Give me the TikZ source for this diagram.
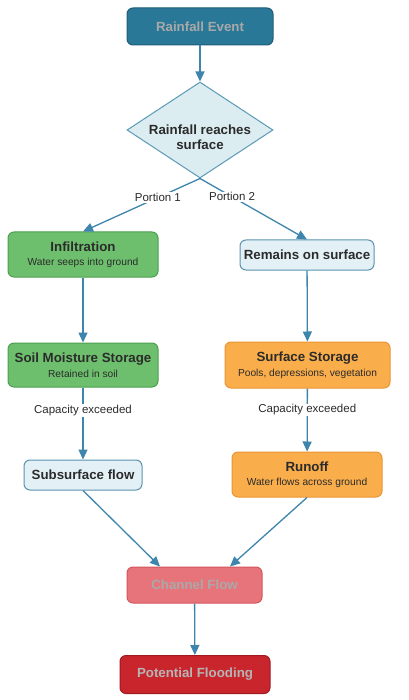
\documentclass[tikz,border=0pt]{standalone}
\usepackage{fontspec}
\setmainfont{Liberation Sans}
\usetikzlibrary{shapes.geometric,arrows.meta}
\definecolor{evfill}{HTML}{2A7898}
\definecolor{evdraw}{HTML}{1F5D78}
\definecolor{evtext}{HTML}{A8A8A8}
\definecolor{dmfill}{HTML}{DCEDF2}
\definecolor{dmdraw}{HTML}{5A9AB5}
\definecolor{grfill}{HTML}{6DBF6D}
\definecolor{grdraw}{HTML}{4E9F52}
\definecolor{ltfill}{HTML}{E3F1F6}
\definecolor{ltdraw}{HTML}{5A93B0}
\definecolor{orfill}{HTML}{F9AD4B}
\definecolor{ordraw}{HTML}{EB9532}
\definecolor{chfill}{HTML}{E8747B}
\definecolor{chdraw}{HTML}{D4555D}
\definecolor{chtext}{HTML}{A9A9A9}
\definecolor{flfill}{HTML}{C8252D}
\definecolor{fldraw}{HTML}{A11A20}
\definecolor{fltext}{HTML}{B5B5B5}
\definecolor{arrc}{HTML}{3D85AD}
\definecolor{txt}{HTML}{2B2B2B}
\newcommand\mytitlefont{\fontsize{13.3}{15.5}\selectfont\bfseries}
\newcommand\mysubfont{\fontsize{10.2}{12}\selectfont}
\newcommand\mylabfont{\fontsize{11.5}{13}\selectfont}
\begin{document}
\begin{tikzpicture}[x=1pt,y=-1pt,
  box/.style={draw, rounded corners=6pt, line width=1pt, inner sep=0pt, align=center, text=txt, font=\mytitlefont},
  greenbox/.style={box, fill=grfill, draw=grdraw},
  lightbox/.style={box, fill=ltfill, draw=ltdraw},
  orangebox/.style={box, fill=orfill, draw=ordraw},
  arr/.style={draw=arrc, line width=1.3pt, -{Triangle[length=10pt,width=9pt]}},
  lab/.style={fill=white, font=\mylabfont, text=txt, inner sep=1pt}]
\useasboundingbox[fill=white] (0,0) rectangle (408,700);

\node[box, fill=evfill, draw=evdraw, text=evtext, minimum width=146pt, minimum height=37pt] (ev) at (200,26.5) {Rainfall Event};

\node[diamond, draw=dmdraw, fill=dmfill, line width=1pt, minimum width=146pt, minimum height=96pt, inner sep=0pt] (dm) at (200,130) {};
\node[font=\mytitlefont, align=center, text=txt] (dmt) at (200,137) {Rainfall reaches\\surface};

\node[greenbox, minimum width=150pt, minimum height=45pt] (inf) at (83,254.5) {Infiltration\\[-1pt]{\mysubfont\mdseries Water seeps into ground}};
\node[lightbox, minimum width=134pt, minimum height=30pt] (rem) at (307,255) {Remains on surface};
\node[greenbox, minimum width=150pt, minimum height=44pt] (soil) at (83,365) {Soil Moisture Storage\\[-1pt]{\mysubfont\mdseries Retained in soil}};
\node[orangebox, minimum width=165pt, minimum height=46pt] (sur) at (307.5,365) {Surface Storage\\[-1pt]{\mysubfont\mdseries Pools, depressions, vegetation}};
\node[lightbox, minimum width=118pt, minimum height=30pt] (sub) at (83,475) {Subsurface flow};
\node[orangebox, minimum width=150pt, minimum height=45pt] (run) at (307,474.5) {Runoff\\[-1pt]{\mysubfont\mdseries Water flows across ground}};
\node[box, fill=chfill, draw=chdraw, text=chtext, minimum width=135pt, minimum height=36pt] (ch) at (194.5,585) {Channel Flow};
\node[box, fill=flfill, draw=fldraw, text=fltext, minimum width=150pt, minimum height=38pt] (fl) at (195,674.5) {Potential Flooding};

\draw[arr] (ev) -- (dm);
\draw[arr] (dm.south) -- node[lab, pos=0.36] {Portion 1} (inf.north);
\draw[arr] (dm.south) -- node[lab, pos=0.3] {Portion 2} (rem.north);
\draw[arr] (inf) -- (soil);
\draw[arr] (soil) -- node[lab, pos=0.32] {Capacity exceeded} (sub);
\draw[arr] (rem) -- (sur);
\draw[arr] (sur) -- node[lab, pos=0.34] {Capacity exceeded} (run);
\draw[arr] (sub.south) -- ([xshift=-34.5pt]ch.north);
\draw[arr] (run.south) -- ([xshift=35.5pt]ch.north);
\draw[arr] (ch) -- (fl);
\end{tikzpicture}
\end{document}
